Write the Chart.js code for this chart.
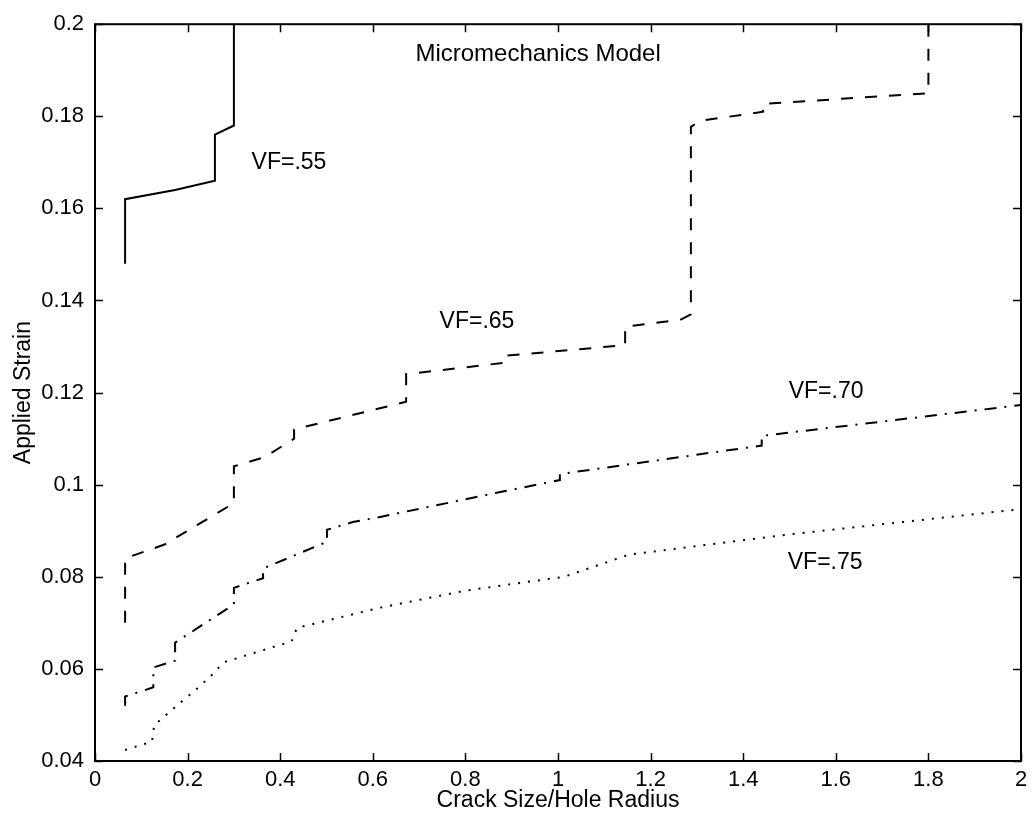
<!DOCTYPE html>
<html>
<head>
<meta charset="utf-8">
<script src="https://cdn.jsdelivr.net/npm/chart.js@4.4.1/dist/chart.umd.min.js"></script>
<style>
  html, body { margin: 0; padding: 0; background: #fff; }
  #wrap { width: 1034px; height: 823px; }
</style>
</head>
<body>
<div id="wrap"><canvas id="chart"></canvas></div>
<script>
// Crack size / hole radius (x) against applied strain (y), one curve per fibre volume fraction
const vf55X = [0.065, 0.065, 0.173, 0.259, 0.259, 0.300, 0.300];
const vf55Y = [0.148, 0.162, 0.164, 0.166, 0.176, 0.178, 0.200];

const vf65X = [0.065, 0.065, 0.150, 0.300, 0.300, 0.367, 0.430, 0.430, 0.672, 0.672, 0.886, 0.886,
               1.145, 1.145, 1.264, 1.287, 1.287, 1.307, 1.443, 1.443, 1.800, 1.800];
const vf65Y = [0.070, 0.084, 0.087, 0.096, 0.104, 0.106, 0.110, 0.112, 0.118, 0.124, 0.1265, 0.128,
               0.1303, 0.1343, 0.1358, 0.137, 0.1777, 0.179, 0.181, 0.1827, 0.185, 0.200];

const vf70X = [0.065, 0.065, 0.126, 0.126, 0.173, 0.173, 0.300, 0.300, 0.363, 0.363, 0.501, 0.501,
               0.557, 0.616, 0.875, 1.004, 1.004, 1.440, 1.440, 2.000];
const vf70Y = [0.052, 0.054, 0.056, 0.0603, 0.0618, 0.0657, 0.074, 0.0776, 0.0797, 0.0818, 0.0876, 0.0902,
               0.0919, 0.093, 0.0984, 0.101, 0.1023, 0.1085, 0.1106, 0.1173];

const vf75X = [0.065, 0.123, 0.128, 0.173, 0.216, 0.255, 0.277, 0.425, 0.436, 0.616, 0.800,
               1.013, 1.153, 1.490, 2.000];
const vf75Y = [0.0424, 0.0442, 0.0478, 0.0517, 0.0553, 0.0589, 0.0614, 0.066, 0.0689, 0.0733, 0.077,
               0.080, 0.0848, 0.0891, 0.0947];

const xTicks = [0, 0.2, 0.4, 0.6, 0.8, 1, 1.2, 1.4, 1.6, 1.8, 2];
const xTickLabels = ['0', '0.2', '0.4', '0.6', '0.8', '1', '1.2', '1.4', '1.6', '1.8', '2'];
const yTicks = [0.04, 0.06, 0.08, 0.1, 0.12, 0.14, 0.16, 0.18, 0.2];
const yTickLabels = ['0.04', '0.06', '0.08', '0.1', '0.12', '0.14', '0.16', '0.18', '0.2'];

function toPoints(xs, ys) {
    return xs.map(function(x, i) { return { x: x, y: ys[i] }; });
}

// text written inside the axes, placed in data units
const notes = [
    { text: 'Micromechanics Model', x: 0.957, y: 0.1935, size: 24 },
    { text: 'VF=.55', x: 0.419, y: 0.170, size: 23 },
    { text: 'VF=.65', x: 0.825, y: 0.1354, size: 23 },
    { text: 'VF=.70', x: 1.579, y: 0.1203, size: 23 },
    { text: 'VF=.75', x: 1.577, y: 0.0831, size: 23 }
];

// box round the axes with inward ticks on all four sides, plus the notes
const frameAndNotes = {
    id: 'frameAndNotes',
    afterDatasetsDraw(chart) {
        const ctx = chart.ctx;
        const a = chart.chartArea;
        const xs = chart.scales.x;
        const ys = chart.scales.y;
        const len = 8;
        ctx.save();
        ctx.strokeStyle = '#000';
        ctx.lineWidth = 2;
        ctx.strokeRect(a.left, a.top, a.right - a.left, a.bottom - a.top);
        ctx.lineWidth = 1.5;
        ctx.beginPath();
        xTicks.forEach(function(v) {
            const px = Math.round(xs.getPixelForValue(v)) + 0.5;
            ctx.moveTo(px, a.bottom); ctx.lineTo(px, a.bottom - len);
            ctx.moveTo(px, a.top); ctx.lineTo(px, a.top + len);
        });
        yTicks.forEach(function(v) {
            const py = Math.round(ys.getPixelForValue(v)) + 0.5;
            ctx.moveTo(a.left, py); ctx.lineTo(a.left + len, py);
            ctx.moveTo(a.right, py); ctx.lineTo(a.right - len, py);
        });
        ctx.stroke();

        ctx.fillStyle = '#000';
        ctx.textAlign = 'center';
        ctx.textBaseline = 'middle';
        notes.forEach(function(n) {
            ctx.font = n.size + 'px "Liberation Sans", Arial, sans-serif';
            ctx.fillText(n.text, xs.getPixelForValue(n.x), ys.getPixelForValue(n.y));
        });
        ctx.restore();
    }
};

const tickFont = { family: '"Liberation Sans", Arial, sans-serif', size: 22 };
const titleFont = { family: '"Liberation Sans", Arial, sans-serif', size: 23 };

new Chart(document.getElementById('chart'), {
    type: 'scatter',
    data: {
        datasets: [
            {
                label: 'VF=.55',
                data: toPoints(vf55X, vf55Y),
                borderColor: '#000',
                borderWidth: 2,
                showLine: true,
                pointRadius: 0
            },
            {
                label: 'VF=.65',
                data: toPoints(vf65X, vf65Y),
                borderColor: '#000',
                borderWidth: 2,
                borderDash: [12, 12],
                showLine: true,
                pointRadius: 0
            },
            {
                label: 'VF=.70',
                data: toPoints(vf70X, vf70Y),
                borderColor: '#000',
                borderWidth: 2,
                borderDash: [12, 8, 2, 8],
                showLine: true,
                pointRadius: 0
            },
            {
                label: 'VF=.75',
                data: toPoints(vf75X, vf75Y),
                borderColor: '#000',
                borderWidth: 2,
                borderDash: [2, 8],
                showLine: true,
                pointRadius: 0
            }
        ]
    },
    options: {
        responsive: true,
        maintainAspectRatio: false,
        animation: false,
        layout: {
            padding: { top: 18, right: 13, left: 0, bottom: 0 }
        },
        plugins: {
            legend: { display: false },
            tooltip: { enabled: false }
        },
        scales: {
            x: {
                type: 'linear',
                min: 0,
                max: 2,
                afterBuildTicks: function(scale) {
                    scale.ticks = xTicks.map(function(v) { return { value: v }; });
                },
                afterFit: function(scale) { scale.height = 62; },
                grid: { display: false, drawTicks: false },
                border: { display: false },
                ticks: {
                    color: '#000',
                    font: tickFont,
                    padding: 6,
                    maxRotation: 0,
                    autoSkip: false,
                    callback: function(v, i) { return xTickLabels[i]; }
                },
                title: {
                    display: true,
                    text: 'Crack Size/Hole Radius',
                    color: '#000',
                    font: titleFont,
                    padding: { top: 0, bottom: 9 }
                }
            },
            y: {
                type: 'linear',
                min: 0.04,
                max: 0.2,
                afterBuildTicks: function(scale) {
                    scale.ticks = yTicks.map(function(v) { return { value: v }; });
                },
                afterFit: function(scale) { scale.width = 95; },
                grid: { display: false, drawTicks: false },
                border: { display: false },
                ticks: {
                    color: '#000',
                    font: tickFont,
                    padding: 11,
                    autoSkip: false,
                    callback: function(v, i) { return yTickLabels[i]; }
                },
                title: {
                    display: true,
                    text: 'Applied Strain',
                    color: '#000',
                    font: titleFont,
                    padding: { top: 10, bottom: 0 }
                }
            }
        }
    },
    plugins: [frameAndNotes]
});
</script>
</body>
</html>
